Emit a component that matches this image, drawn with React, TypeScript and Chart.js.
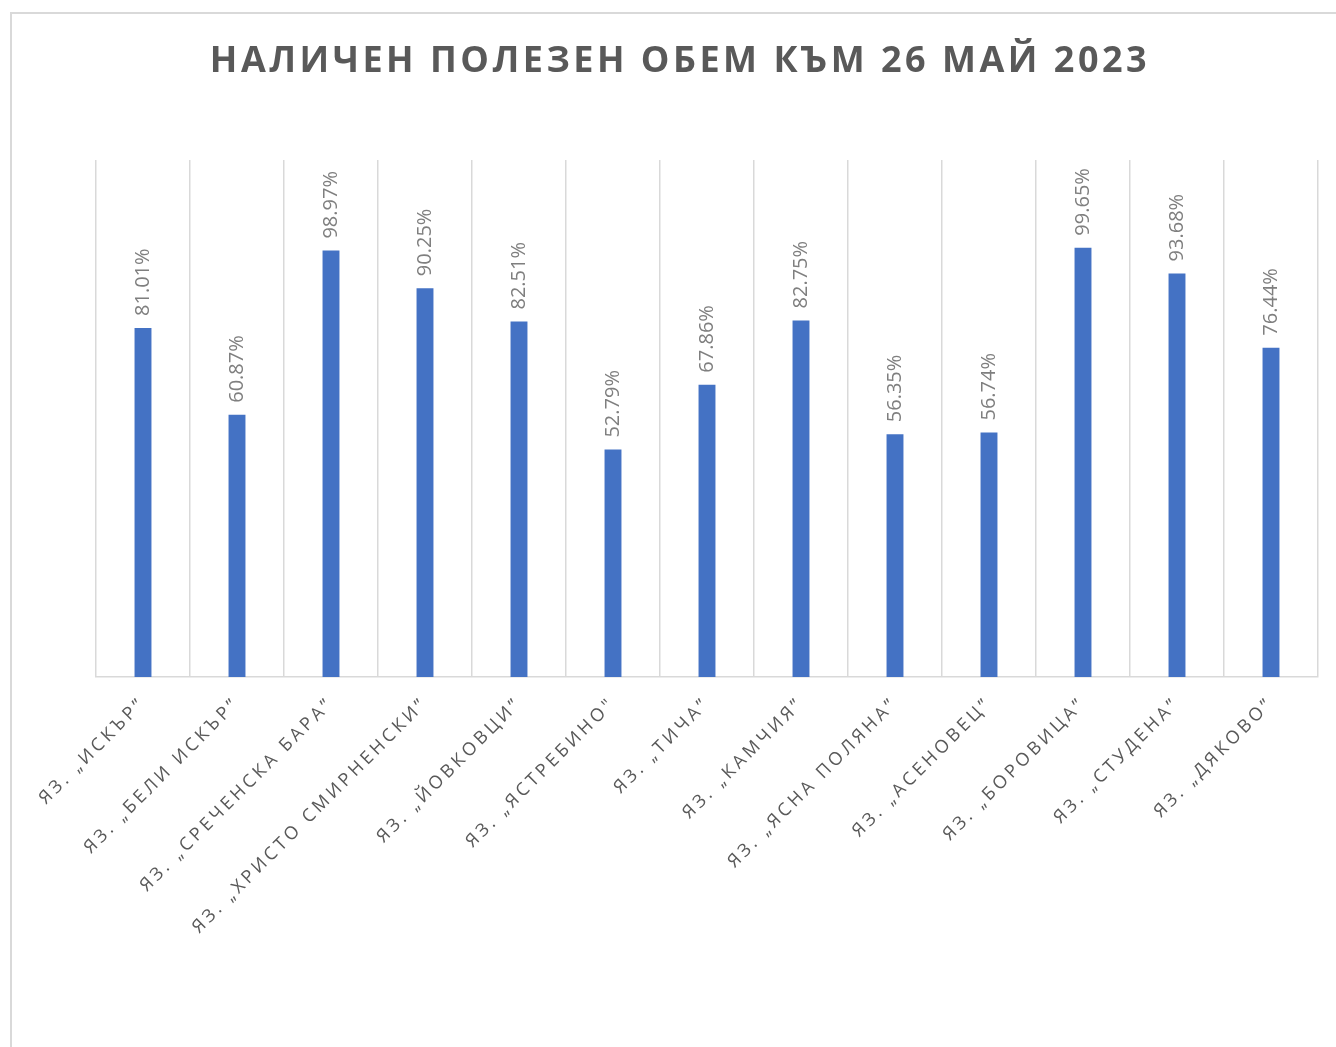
import React, { useEffect, useRef } from "react";
import { Chart, registerables } from "chart.js";

Chart.register(...registerables);

const TITLE = "НАЛИЧЕН ПОЛЕЗЕН ОБЕМ КЪМ 26 МАЙ 2023";

const categories = [
  "ЯЗ. „ИСКЪР”",
  "ЯЗ. „БЕЛИ ИСКЪР”",
  "ЯЗ. „СРЕЧЕНСКА БАРА”",
  "ЯЗ. „ХРИСТО СМИРНЕНСКИ”",
  "ЯЗ. „ЙОВКОВЦИ”",
  "ЯЗ. „ЯСТРЕБИНО\"",
  "ЯЗ. „ТИЧА”",
  "ЯЗ. „КАМЧИЯ”",
  "ЯЗ. „ЯСНА ПОЛЯНА”",
  "ЯЗ. „АСЕНОВЕЦ”",
  "ЯЗ. „БОРОВИЦА”",
  "ЯЗ. „СТУДЕНА”",
  "ЯЗ. „ДЯКОВО”",
];

const volumePercent = [81.01, 60.87, 98.97, 90.25, 82.51, 52.79, 67.86, 82.75, 56.35, 56.74, 99.65, 93.68, 76.44];

const W = 1336;
const H = 1047;

const framePlugin = {
  id: "frame",
  beforeDraw(chart: any) {
    const ctx = chart.ctx;
    ctx.save();
    ctx.fillStyle = "#ffffff";
    ctx.fillRect(0, 0, W, H);
    ctx.strokeStyle = "#d9d9d9";
    ctx.lineWidth = 2;
    ctx.beginPath();
    ctx.moveTo(11, H + 5);
    ctx.lineTo(11, 13);
    ctx.lineTo(W + 5, 13);
    ctx.stroke();
    // title
    ctx.font = "bold 36px 'Open Sans'";
    ctx.fillStyle = "#595959";
    (ctx as any).letterSpacing = "3.5px";
    ctx.textAlign = "center";
    ctx.textBaseline = "alphabetic";
    ctx.fillText(TITLE, 680, 72);
    ctx.restore();
    (ctx as any).letterSpacing = "3.5px";
  },
  afterDatasetsDraw(chart: any) {
    const ctx = chart.ctx;
    const meta = chart.getDatasetMeta(0);
    ctx.save();
    (ctx as any).letterSpacing = "0px";
    ctx.font = "20px 'Open Sans'";
    ctx.fillStyle = "#7f7f7f";
    ctx.textAlign = "left";
    ctx.textBaseline = "middle";
    meta.data.forEach((bar: any, i: number) => {
      ctx.save();
      ctx.translate(bar.x, bar.y - 12);
      ctx.rotate(-Math.PI / 2);
      ctx.fillText(volumePercent[i].toFixed(2) + "%", 0, 0);
      ctx.restore();
    });
    ctx.restore();
  },
};

export default function App() {
  const ref = useRef<HTMLCanvasElement>(null);
  useEffect(() => {
    if (!ref.current) return;
    const chart = new Chart(ref.current, {
      type: "bar",
      data: {
        labels: categories,
        datasets: [
          {
            data: volumePercent,
            backgroundColor: "#4472c4",
            barPercentage: 0.18,
            categoryPercentage: 1,
          },
        ],
      },
      options: {
        animation: false,
        responsive: false,
        layout: { padding: { left: 96, right: 18, top: 160, bottom: 0 } },
        plugins: {
          legend: { display: false },
          title: { display: false },
          tooltip: { enabled: false },
        },
        scales: {
          x: {
            grid: { display: true, color: "#d9d9d9", lineWidth: 1.5, drawTicks: false, offset: true },
            border: { display: true, color: "#d9d9d9", width: 1.5 },
            ticks: {
              autoSkip: false,
              minRotation: 45,
              maxRotation: 45,
              padding: 16,
              color: "#595959",
              font: { family: "'Open Sans'", size: 18 },
            },
            afterFit(scale: any) {
              scale.height = H - 677;
              scale.paddingLeft = 0;
              scale.paddingRight = 0;
            },
          },
          y: {
            display: false,
            min: 0,
            max: 120,
          },
        },
      },
      plugins: [framePlugin],
    });
    return () => chart.destroy();
  }, []);
  return (
    <div style={{ position: "fixed", left: 0, top: 0, width: W, height: H, background: "#fff" }}>
      <canvas ref={ref} width={W} height={H} style={{ display: "block" }} />
    </div>
  );
}
